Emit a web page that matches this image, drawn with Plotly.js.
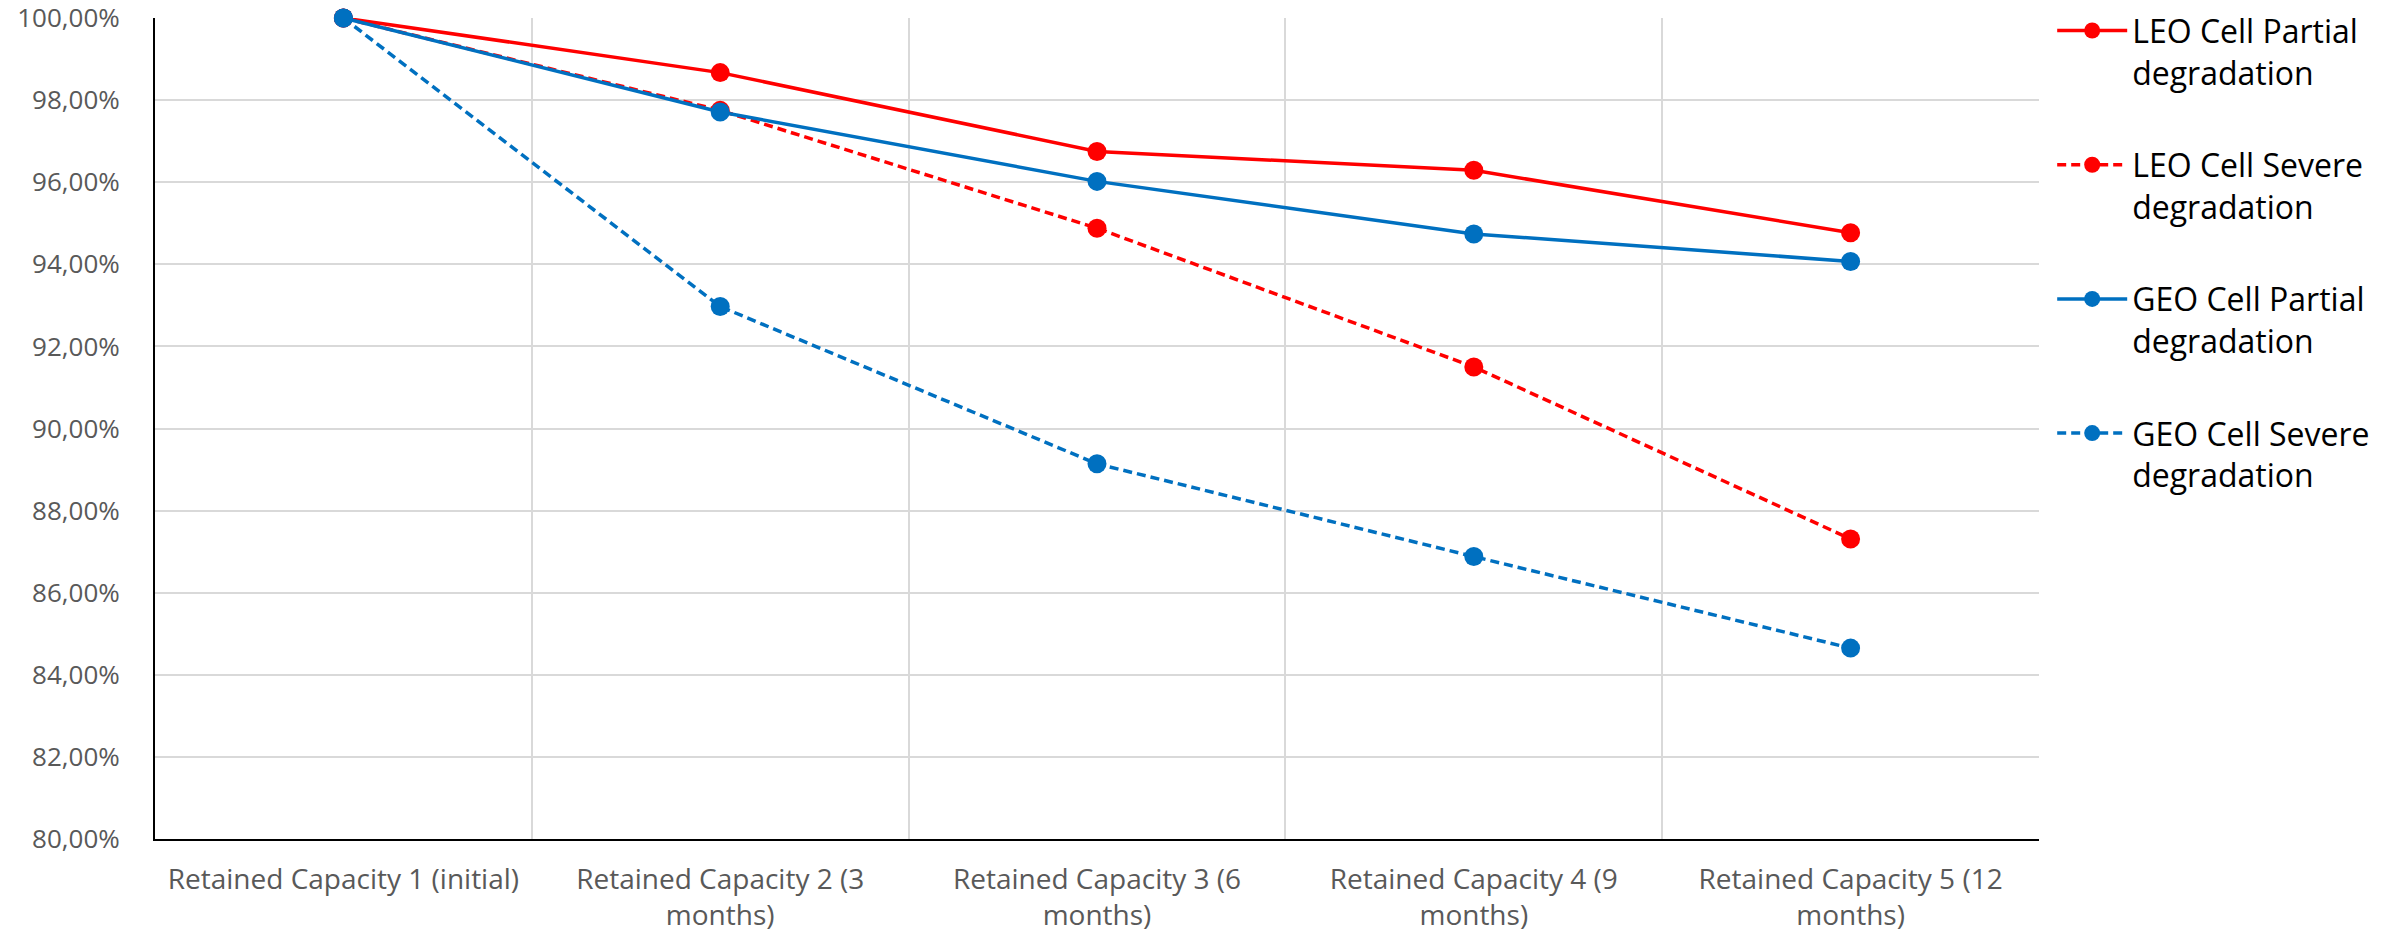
<!DOCTYPE html>
<html>
<head>
<meta charset="utf-8">
<script src="https://cdn.plot.ly/plotly-3.0.1.min.js"></script>
<style>html,body{margin:0;padding:0;background:#fff;}#chart{width:2404px;height:934px;}</style>
</head>
<body>
<div id="chart"></div>
<script>
const categories = [
  "Retained Capacity 1 (initial)",
  "Retained Capacity 2 (3 months)",
  "Retained Capacity 3 (6 months)",
  "Retained Capacity 4 (9 months)",
  "Retained Capacity 5 (12 months)"
];
const tickLabels = [
  "Retained Capacity 1 (initial)",
  "Retained Capacity 2 (3<br>months)",
  "Retained Capacity 3 (6<br>months)",
  "Retained Capacity 4 (9<br>months)",
  "Retained Capacity 5 (12<br>months)"
];
const seriesNames = [
  "LEO Cell Partial<br>degradation",
  "LEO Cell Severe<br>degradation",
  "GEO Cell Partial<br>degradation",
  "GEO Cell Severe<br>degradation"
];
const leoPartial = [100.00, 98.67, 96.75, 96.29, 94.77];
const leoSevere  = [100.00, 97.75, 94.88, 91.50, 87.31];
const geoPartial = [100.00, 97.71, 96.02, 94.74, 94.07];
const geoSevere  = [100.00, 92.97, 89.14, 86.88, 84.65];

const RED = "#FF0000", BLUE = "#0070C0";
const FONT = "'Open Sans', sans-serif";

function mk(name, y, color, dash, grp) {
  return {
    type: "scatter", mode: "lines+markers", name: name, x: categories, y: y,
    legendgroup: grp,
    line: {color: color, width: 3.5, dash: dash},
    marker: {color: color, size: 19},
    cliponaxis: false
  };
}
const data = [
  mk(seriesNames[0], leoPartial, RED, "solid", "a"),
  mk(seriesNames[1], leoSevere, RED, "9px,5px", "b"),
  mk(seriesNames[2], geoPartial, BLUE, "solid", "c"),
  mk(seriesNames[3], geoSevere, BLUE, "9px,5px", "d")
];
const layout = {
  width: 2404, height: 934,
  paper_bgcolor: "#fff", plot_bgcolor: "#fff",
  separators: ", ",
  margin: {l: 155, r: 365, t: 18, b: 95, autoexpand: false},
  font: {family: FONT, color: "#595959"},
  showlegend: true,
  legend: {
    x: 1.007, xanchor: "left", y: 1.018, yanchor: "top",
    font: {family: FONT, size: 32, color: "#000"},
    valign: "top", itemwidth: 70, tracegroupgap: 48,
    traceorder: "grouped", bgcolor: "rgba(0,0,0,0)",
    maxheight: 1
  },
  xaxis: {
    type: "category", range: [-0.5, 4.5],
    tickmode: "array", tickvals: categories, ticktext: tickLabels,
    tickson: "boundaries", ticks: "",
    showgrid: true, gridcolor: "#D9D9D9", gridwidth: 2,
    showline: true, linecolor: "#000", linewidth: 2,
    tickfont: {family: FONT, size: 28, color: "#595959"},
    ticklabelstandoff: 14, ticklabeloverflow: "allow",
    zeroline: false
  },
  yaxis: {
    range: [80, 100], dtick: 2, tick0: 80,
    tickformat: ".2f", ticksuffix: "%",
    showgrid: true, gridcolor: "#D9D9D9", gridwidth: 2,
    showline: true, linecolor: "#000", linewidth: 2,
    ticks: "", ticklabelstandoff: 28, ticklabeloverflow: "allow",
    tickfont: {family: FONT, size: 26, color: "#595959"},
    zeroline: false
  }
};
Plotly.newPlot("chart", data, layout, {displayModeBar: false, staticPlot: true});
</script>
</body>
</html>
